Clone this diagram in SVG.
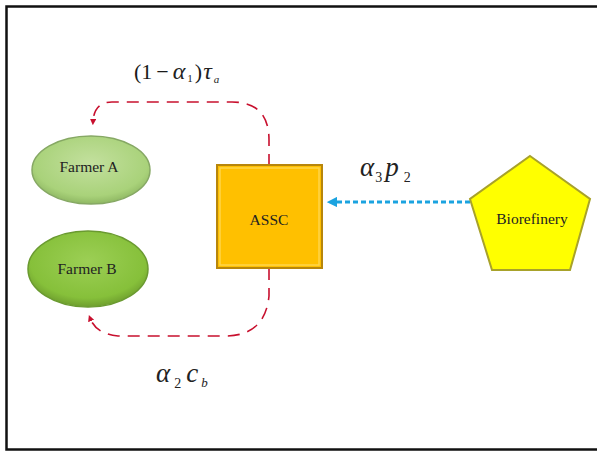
<svg xmlns="http://www.w3.org/2000/svg" width="597" height="453" viewBox="0 0 597 453">
<defs>
<style>
.lbl{font-family:"Liberation Serif","Times New Roman",serif;fill:#1a1a1a}
.node{font-family:"Liberation Serif","Times New Roman",serif;font-size:15.5px;fill:#222;text-anchor:middle}
.math{font-family:"Liberation Serif","Times New Roman",serif;font-style:italic;fill:#222}
.red{fill:none;stroke:#C8102E;stroke-width:1.6;stroke-dasharray:12 8}
.blue{fill:none;stroke:#1BA3E0;stroke-width:3;stroke-dasharray:5 3}
</style>
<radialGradient id="gA" cx="50%" cy="40%" r="60%">
<stop offset="0" stop-color="#c3e09e"/><stop offset="0.8" stop-color="#a9d27a"/><stop offset="1" stop-color="#8fb863"/>
</radialGradient>
<radialGradient id="gB" cx="50%" cy="40%" r="60%">
<stop offset="0" stop-color="#9ccf55"/><stop offset="0.8" stop-color="#86c03a"/><stop offset="1" stop-color="#6e9e2e"/>
</radialGradient>
<marker id="mr" viewBox="0 0 10 10" refX="5" refY="5" markerWidth="4" markerHeight="4" orient="auto">
<path d="M0,0 L10,5 L0,10 z" fill="#C8102E"/>
</marker>
<marker id="mb" viewBox="0 0 10 10" refX="5" refY="5" markerWidth="3.5" markerHeight="3.5" orient="auto">
<path d="M0,0 L10,5 L0,10 z" fill="#1BA3E0"/>
</marker>
</defs>
<rect x="0" y="0" width="597" height="453" fill="#ffffff"/>
<rect x="6.5" y="6.5" width="600" height="443" fill="#ffffff" stroke="#111" stroke-width="2.5"/>

<g id="connectors">
<path class="red" d="M269,166 L269,140 Q269,102 232,102 L112,102 Q94,102 93,122" marker-end="url(#mr)"/>
<path class="red" d="M269,268 L269,296 Q265,336 225,336 L118,336 Q96,334 90,318" marker-end="url(#mr)"/>
<path class="blue" d="M470,202 L332,202" marker-end="url(#mb)"/>
</g>

<g id="farmerA">
<ellipse cx="91" cy="170" rx="59" ry="34" fill="url(#gA)" stroke="#86a864" stroke-width="1.5"/>
<text class="node" x="89" y="172">Farmer A</text>
</g>
<g id="farmerB">
<ellipse cx="88" cy="269" rx="60" ry="38" fill="url(#gB)" stroke="#6a9a30" stroke-width="1.5"/>
<text class="node" x="87" y="274">Farmer B</text>
</g>
<g id="assc">
<rect x="217" y="165" width="105" height="103" fill="#FFC000" stroke="#b8860b" stroke-width="2"/>
<rect x="220" y="168" width="99" height="97" fill="none" stroke="#ffd54a" stroke-width="1.5"/>
<text class="node" x="269" y="225">ASSC</text>
</g>
<g id="biorefinery">
<polygon points="530,156 590,199 570,270 492,270 470,199" fill="#FFFF00" stroke="#a8a22a" stroke-width="2"/>
<text class="node" x="532" y="224" font-size="16">Biorefinery</text>
</g>

<g id="labels">
<text class="lbl" font-size="22" x="134" y="79">(1<tspan dx="4">−</tspan><tspan class="math" font-size="24" dx="4">α</tspan><tspan font-size="11" dy="3" dx="2">1</tspan><tspan dy="-3" dx="2">)</tspan><tspan class="math" font-size="24" dx="1">τ</tspan><tspan class="math" font-size="11" dy="4" dx="2">a</tspan></text>
<text class="math" font-size="27" x="360" y="176">α<tspan font-style="normal" font-size="14" dy="6" dx="1">3</tspan><tspan dy="-6" dx="3">p</tspan><tspan font-style="normal" font-size="14" dy="6" dx="5">2</tspan></text>
<text class="math" font-size="27" x="156" y="382">α<tspan font-style="normal" font-size="14" dy="6" dx="4">2</tspan><tspan dy="-6" dx="5">c</tspan><tspan font-size="13" dy="5" dx="3">b</tspan></text>
</g>
</svg>
